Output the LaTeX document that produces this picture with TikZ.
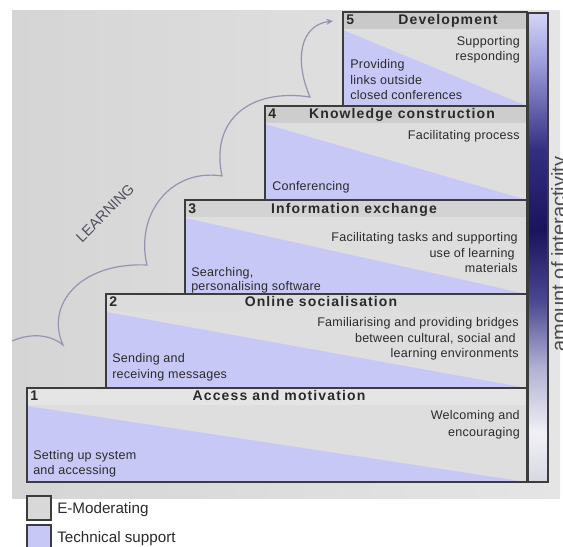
\documentclass[tikz,border=0pt]{standalone}
\usepackage{fontspec}
\setmainfont{Liberation Sans}
\newfontfamily\headfont{Liberation Sans}[LetterSpace=8]
\newfontfamily\bodyfont{Liberation Sans}[LetterSpace=2]
\usetikzlibrary{arrows.meta}

\definecolor{bgA}{HTML}{D5D5D5}
\definecolor{bgB}{HTML}{E5E5E5}
\definecolor{lav}{HTML}{C8C8F6}
\definecolor{bodygray}{HTML}{DEDEDE}
\definecolor{edge}{HTML}{3C3C3C}
\definecolor{ink}{HTML}{2A2A2A}
\definecolor{curvecol}{HTML}{9494B2}
\definecolor{learnink}{HTML}{505062}
\definecolor{headA}{HTML}{C9C9C9}
\definecolor{headB}{HTML}{CDCDCD}
\definecolor{headC}{HTML}{D3D3D3}
\definecolor{headD}{HTML}{DCDCDC}
\definecolor{headE}{HTML}{E5E5E5}

% one stage of the staircase: left x, top y, bottom y, header colour
\newcommand\stage[4]{%
  \fill[bodygray] (#1,#2) rectangle (527,#3);
  \fill[lav] (#1,#2+18) -- (527,#3) -- (#1,#3) -- cycle;
  \fill[#4] (#1,#2) rectangle (527,#2+17);
  \draw[boxedge] (#1,#2) rectangle (527,#3);
}

\tikzset{
  boxedge/.style={draw=edge, line width=1.1pt},
  hd/.style={font=\headfont\bfseries\fontsize{10.5}{12}\selectfont, text=ink,
             inner sep=0pt, text height=.75em, text depth=.22em},
  num/.style={hd, anchor=west},
  tx/.style={font=\bodyfont\fontsize{9.4}{11}\selectfont, text=ink,
             inner sep=0pt, text height=.75em, text depth=.22em},
  txl/.style={tx, anchor=west},
  txr/.style={tx, anchor=east},
  legtx/.style={font=\fontsize{11.4}{13}\selectfont, text=ink, anchor=west,
             inner sep=0pt, text height=.75em, text depth=.22em},
  learn/.style={draw=curvecol, line width=0.9pt},
}

\begin{document}
\begin{tikzpicture}[x=0.75pt,y=-0.75pt]
\path[use as bounding box] (0,0) rectangle (563,546);
\clip (0,0) rectangle (563,546);

% page and grey backdrop
\fill[white] (0,0) rectangle (563,546);
\shade[left color=bgA, right color=bgB] (12,10) rectangle (560,498);

% learning curve climbing the steps
\coordinate (lstart) at (12,341);
\coordinate (lend) at (333,21);
\draw[learn, -{Stealth[length=5pt,width=4.5pt]}] (lstart)
  .. controls (30,333) and (50,334) .. (63,345)
  .. controls (45,305) and (80,262) .. (147,265)
  .. controls (135,215) and (170,168) .. (222,176)
  .. controls (210,120) and (250,88) .. (310,97)
  .. controls (294,60) and (300,25) .. (lend);
\node[rotate=45, font=\fontsize{11}{13}\selectfont, text=learnink] (learning) at (105,213) {LEARNING};

% the five stages
\stage{343}{12}{106}{headA}
\stage{265}{106}{200}{headB}
\stage{185}{200}{294}{headC}
\stage{106}{294}{388}{headD}
\stage{27}{388}{482}{headE}

% interactivity bar
\shade[top color={rgb,255:red,212;green,212;blue,248}, bottom color={rgb,255:red,160;green,160;blue,222}] (528.5,13) rectangle (548,60);
\shade[top color={rgb,255:red,160;green,160;blue,222}, bottom color={rgb,255:red,52;green,46;blue,130}] (528.5,60) rectangle (548,150);
\shade[top color={rgb,255:red,52;green,46;blue,130}, bottom color={rgb,255:red,26;green,20;blue,92}] (528.5,150) rectangle (548,230);
\shade[top color={rgb,255:red,26;green,20;blue,92}, bottom color={rgb,255:red,74;green,70;blue,144}] (528.5,230) rectangle (548,300);
\shade[top color={rgb,255:red,74;green,70;blue,144}, bottom color={rgb,255:red,176;green,176;blue,210}] (528.5,300) rectangle (548,367);
\shade[top color={rgb,255:red,176;green,176;blue,210}, bottom color={rgb,255:red,240;green,240;blue,246}] (528.5,367) rectangle (548,433);
\shade[top color={rgb,255:red,240;green,240;blue,246}, bottom color={rgb,255:red,216;green,216;blue,226}] (528.5,433) rectangle (548,482);
\draw[boxedge] (528.5,13) rectangle (548,482);
\node[rotate=90, anchor=base, inner sep=0pt, font=\fontsize{15}{17}\selectfont, text=ink!85] (inter) at (565.5,254) {amount of interactivity};

% stage 5
\node[num] (n5) at (346,21) {5};
\node[hd] (h5) at (448,21) {Development};
\node[txr] (t5a) at (520,42) {Supporting};
\node[txr] (t5b) at (520,57) {responding};
\node[txl] (t5c) at (350,65) {Providing};
\node[txl] (t5d) at (350,81) {links outside};
\node[txl] (t5e) at (350,96) {closed conferences};

% stage 4
\node[num] (n4) at (268,115) {4};
\node[hd] (h4) at (402,115) {Knowledge construction};
\node[txr] (t4a) at (520,136) {Facilitating process};
\node[txl] (t4b) at (272,187) {Conferencing};

% stage 3
\node[num] (n3) at (188,210) {3};
\node[hd] (h3) at (354,210) {Information exchange};
\node[txr] (t3a) at (518,238) {Facilitating tasks and supporting};
\node[txr] (t3b) at (515,254) {use of learning};
\node[txr] (t3c) at (518,269) {materials};
\node[txl] (t3d) at (191,273) {Searching,};
\node[txl] (t3e) at (191,287) {personalising software};

% stage 2
\node[num] (n2) at (109,303) {2};
\node[hd] (h2) at (321,303) {Online socialisation};
\node[txr] (t2a) at (519,323) {Familiarising and providing bridges};
\node[txr] (t2b) at (516,339) {between cultural, social and};
\node[txr] (t2c) at (519,354) {learning environments};
\node[txl] (t2d) at (112,359) {Sending and};
\node[txl] (t2e) at (112,375) {receiving messages};

% stage 1
\node[num] (n1) at (30,397) {1};
\node[hd] (h1) at (279,397) {Access and motivation};
\node[txr] (t1a) at (520,416) {Welcoming and};
\node[txr] (t1b) at (520,433) {encouraging};
\node[txl] (t1c) at (33,456) {Setting up system};
\node[txl] (t1d) at (33,471) {and accessing};

% legend
\draw[fill={rgb,255:red,216;green,216;blue,216}, draw=edge, line width=1pt] (27,496) rectangle (51,520);
\draw[fill=lav, draw=edge, line width=1pt] (27,525) rectangle (51,550);
\node[legtx] (lg1) at (57,510) {E-Moderating};
\node[legtx] (lg2) at (57,539) {Technical support};
\end{tikzpicture}
\end{document}
